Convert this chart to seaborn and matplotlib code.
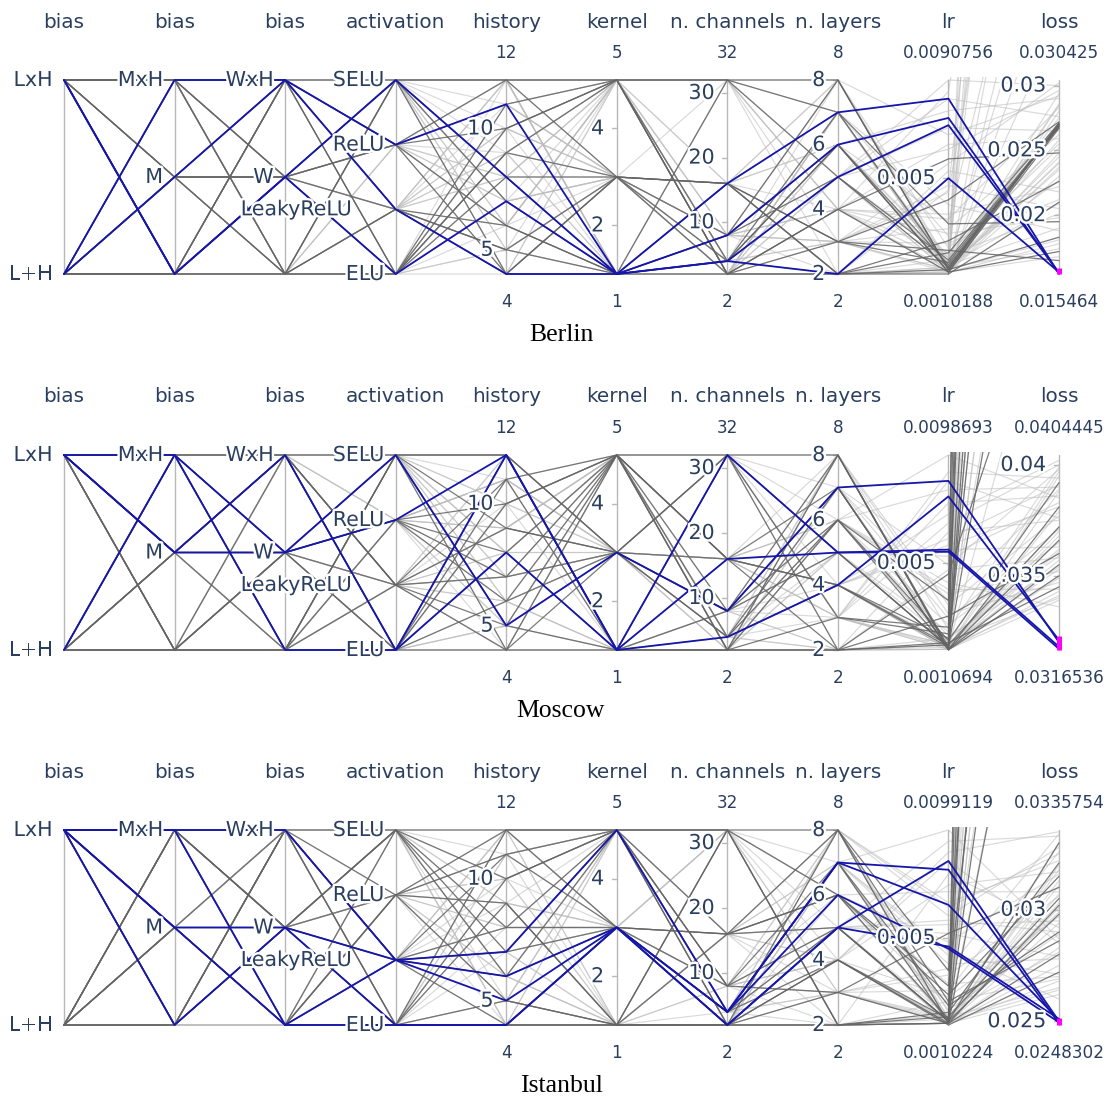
import numpy as np
import pandas as pd
import matplotlib
matplotlib.use("Agg")
import matplotlib.pyplot as plt
import matplotlib.patheffects as pe
import seaborn as sns

# ------------------------------------------------------------------ dimensions
dim_names = ["bias", "bias", "bias", "activation", "history", "kernel",
             "n. channels", "n. layers", "lr", "loss"]
bias1_levels = ["L+H", "LxH"]
bias2_levels = ["", "M", "MxH"]
bias3_levels = ["", "W", "WxH"]
act_levels = ["ELU", "LeakyReLU", "ReLU", "SELU"]

history_range = [4, 12]
history_ticks = [5, 10]
kernel_range = [1, 5]
kernel_ticks = [2, 4]
channels_range = [2, 32]
channels_ticks = [10, 20, 30]
layers_range = [2, 8]
layers_ticks = [2, 4, 6, 8]
lr_ticks = [0.005]

cities = ["Berlin", "Moscow", "Istanbul"]

# ------------------------------------------------------------------ Berlin
berlin_n_best, berlin_n_mid = 4, 18
berlin_lr_range = [0.0010188, 0.0090756]
berlin_loss_range = [0.015464, 0.030425]
berlin_loss_ticks = [0.02, 0.025, 0.03]
berlin_loss_selected = [0.015464, 0.0159]
berlin_bias1 = [1, 0, 0, 1] + [1, 0, 1, 0, 1, 1, 0, 0, 1, 0, 1, 0, 0, 1, 1, 0, 1, 0] + \
    [0, 1, 1, 0, 1, 0, 0, 1, 0, 1, 1, 0, 1, 0, 0, 1, 0, 1, 1, 0, 0, 1, 0, 1, 0, 1, 1, 0, 1, 0, 0, 1, 0, 1, 0, 1] + \
    [1, 0, 1, 0, 0, 1, 1, 0, 1, 0, 0, 1, 0, 1, 1, 0, 1, 0, 0, 1]
berlin_bias2 = [0, 2, 1, 0] + [2, 1, 1, 0, 0, 2, 2, 0, 1, 1, 2, 0, 1, 2, 0, 2, 1, 0] + \
    [1, 2, 0, 1, 2, 0, 1, 1, 2, 0, 2, 1, 0, 2, 1, 1, 0, 2, 1, 0, 2, 0, 1, 1, 2, 0, 1, 2, 0, 1, 2, 0, 1, 2, 1, 0] + \
    [2, 1, 0, 2, 1, 0, 2, 1, 0, 1, 2, 0, 1, 2, 0, 1, 0, 2, 1, 2]
berlin_bias3 = [1, 2, 2, 1] + [2, 1, 0, 2, 1, 0, 1, 0, 2, 1, 2, 0, 1, 0, 2, 1, 0, 2] + \
    [0, 1, 2, 1, 0, 2, 1, 0, 1, 2, 0, 2, 1, 0, 1, 2, 0, 1, 2, 0, 1, 1, 2, 0, 0, 2, 1, 0, 2, 1, 0, 2, 1, 0, 2, 1] + \
    [1, 2, 0, 0, 2, 1, 0, 1, 2, 2, 1, 0, 2, 1, 0, 0, 2, 1, 1, 0]
berlin_act = [3, 2, 1, 0] + [3, 0, 1, 2, 3, 0, 2, 1, 0, 3, 1, 0, 2, 3, 0, 1, 3, 2] + \
    [0, 2, 3, 1, 0, 3, 2, 1, 0, 2, 3, 1, 0, 1, 2, 3, 0, 2, 1, 3, 0, 1, 2, 3, 1, 0, 3, 2, 0, 1, 3, 2, 1, 0, 2, 3] + \
    [1, 3, 2, 0, 1, 2, 3, 0, 1, 3, 2, 0, 3, 1, 2, 0, 1, 3, 2, 1]
berlin_history = [8, 11, 4, 7] + [12, 9, 6, 10, 4, 8, 12, 5, 11, 7, 4, 9, 6, 12, 10, 5, 8, 4] + \
    [10, 6, 12, 5, 8, 4, 11, 9, 7, 12, 6, 10, 5, 8, 4, 9, 11, 7, 12, 6, 10, 5, 8, 4, 9, 12, 7, 11, 6, 10, 5, 8, 4, 9, 12, 7] + \
    [11, 7, 9, 5, 12, 6, 10, 4, 8, 11, 7, 9, 5, 12, 6, 10, 4, 8, 11, 6]
berlin_kernel = [1, 1, 1, 1] + [5, 3, 1, 5, 3, 1, 5, 3, 5, 1, 3, 5, 1, 3, 5, 1, 3, 1] + \
    [3, 5, 1, 3, 5, 1, 3, 5, 3, 1, 5, 3, 1, 5, 3, 1, 5, 3, 1, 3, 5, 1, 3, 5, 3, 1, 5, 3, 1, 5, 3, 1, 3, 5, 1, 3] + \
    [5, 3, 1, 5, 3, 5, 1, 3, 5, 3, 1, 5, 3, 1, 5, 3, 5, 1, 3, 5]
berlin_channels = [16, 8, 4, 4] + [32, 16, 4, 2, 8, 32, 2, 16, 4, 8, 2, 32, 16, 4, 2, 8, 16, 2] + \
    [8, 2, 16, 4, 32, 2, 8, 4, 16, 2, 32, 8, 4, 2, 16, 8, 32, 4, 2, 16, 8, 4, 2, 32, 16, 8, 4, 2, 16, 32, 8, 2, 4, 16, 8, 2] + \
    [4, 16, 2, 8, 32, 4, 16, 2, 8, 4, 32, 16, 2, 8, 4, 16, 2, 32, 8, 4]
berlin_layers = [7, 6, 5, 2] + [8, 3, 6, 2, 5, 7, 4, 2, 6, 8, 3, 5, 2, 7, 4, 6, 3, 2] + \
    [4, 7, 2, 5, 8, 3, 6, 2, 4, 7, 5, 3, 8, 2, 6, 4, 7, 3, 5, 2, 8, 6, 4, 3, 7, 5, 2, 6, 8, 4, 3, 7, 5, 2, 6, 4] + \
    [6, 3, 7, 4, 2, 5, 8, 6, 3, 7, 4, 2, 5, 8, 3, 6, 7, 4, 2, 5]
berlin_lr = [0.0083, 0.0075, 0.0072, 0.0050] + \
    [0.0012, 0.0015, 0.0011, 0.0019, 0.0013, 0.0031, 0.0011, 0.0024, 0.0014, 0.0012,
     0.0041, 0.0016, 0.0010188, 0.0013, 0.0058, 0.0011, 0.0020, 0.0012] + \
    [0.0011, 0.0026, 0.0013, 0.0090756, 0.0012, 0.0047, 0.0017, 0.0011, 0.0035, 0.0014,
     0.0062, 0.0012, 0.0021, 0.0011, 0.0078, 0.0015, 0.0013, 0.0029, 0.0011, 0.0053,
     0.0012, 0.0018, 0.0086, 0.0011, 0.0039, 0.0013, 0.0016, 0.0011, 0.0068, 0.0012,
     0.0023, 0.0014, 0.0011, 0.0045, 0.0012, 0.0033] + \
    [0.0013, 0.0044, 0.0011, 0.0027, 0.0012, 0.0071, 0.0015, 0.0011, 0.0056, 0.0012,
     0.0019, 0.0011, 0.0083, 0.0014, 0.0012, 0.0032, 0.0011, 0.0064, 0.0013, 0.0017]
berlin_loss = [0.01548, 0.01552, 0.01556, 0.01560] + \
    [0.0270, 0.0268, 0.0172, 0.0271, 0.0269, 0.0195, 0.0270, 0.0226, 0.0268, 0.0183,
     0.0272, 0.0269, 0.0210, 0.0270, 0.0248, 0.0267, 0.0165, 0.0271] + \
    [0.0285, 0.09, 0.0240, 0.0300, 0.15, 0.0205, 0.0275, 0.06, 0.0222, 0.0190,
     0.0296, 0.12, 0.0255, 0.0178, 0.0290, 0.045, 0.0235, 0.0262, 0.20, 0.0218,
     0.0280, 0.0201, 0.08, 0.0248, 0.0188, 0.035, 0.0272, 0.0230, 0.0292, 0.05,
     0.0212, 0.0258, 0.0168, 0.1, 0.0241, 0.0283] + \
    [0.0245, 0.07, 0.0286, 0.0198, 0.11, 0.0265, 0.0227, 0.04, 0.0302, 0.0181,
     0.0252, 0.18, 0.0276, 0.0209, 0.0294, 0.055, 0.0237, 0.0259, 0.0174, 0.09]

# ------------------------------------------------------------------ Moscow
moscow_n_best, moscow_n_mid = 4, 20
moscow_lr_range = [0.0010694, 0.0098693]
moscow_loss_range = [0.0316536, 0.0404445]
moscow_loss_ticks = [0.035, 0.04]
moscow_loss_selected = [0.0316536, 0.03228]
moscow_bias1 = [1, 0, 1, 1] + [0, 1, 1, 0, 1, 0, 0, 1, 0, 1, 1, 0, 1, 0, 1, 0, 0, 1, 0, 1] + \
    [1, 0, 0, 1, 1, 0, 1, 0, 0, 1, 0, 1, 1, 0, 0, 1, 0, 1, 1, 0, 1, 0, 0, 1, 0, 1, 0, 1, 1, 0, 0, 1, 1, 0, 1, 0] + \
    [0, 1, 0, 1, 1, 0, 0, 1, 0, 1, 1, 0, 1, 0, 0, 1, 1, 0, 0, 1]
moscow_bias2 = [1, 2, 1, 2] + [2, 0, 1, 1, 2, 0, 2, 0, 1, 2, 0, 1, 1, 0, 2, 2, 0, 1, 1, 0] + \
    [0, 1, 2, 0, 1, 2, 1, 0, 2, 0, 1, 2, 0, 1, 2, 1, 0, 2, 0, 1, 2, 0, 1, 0, 2, 1, 2, 0, 1, 2, 0, 1, 2, 0, 1, 2] + \
    [1, 2, 0, 1, 0, 2, 1, 2, 0, 1, 2, 0, 1, 2, 0, 1, 0, 2, 1, 0]
moscow_bias3 = [1, 1, 2, 0] + [0, 2, 1, 2, 0, 1, 2, 0, 2, 1, 0, 1, 2, 0, 1, 2, 1, 0, 2, 1] + \
    [1, 0, 2, 1, 2, 0, 1, 2, 0, 1, 2, 0, 2, 1, 0, 1, 2, 0, 1, 2, 0, 2, 1, 0, 1, 2, 0, 1, 0, 2, 1, 0, 2, 1, 0, 2] + \
    [2, 0, 1, 0, 2, 1, 2, 0, 1, 2, 1, 0, 0, 2, 1, 2, 0, 1, 2, 0]
moscow_act = [2, 3, 0, 0] + [0, 3, 2, 1, 3, 0, 1, 2, 0, 3, 1, 2, 0, 3, 1, 0, 2, 3, 1, 0] + \
    [3, 1, 0, 2, 3, 1, 0, 2, 1, 3, 0, 2, 1, 3, 0, 1, 2, 3, 0, 1, 2, 3, 1, 0, 2, 3, 1, 0, 3, 2, 1, 0, 3, 1, 2, 0] + \
    [1, 0, 2, 3, 1, 3, 0, 2, 1, 0, 3, 2, 1, 0, 2, 3, 1, 0, 3, 2]
moscow_history = [12, 5, 12, 8] + [10, 12, 8, 5, 9, 4, 11, 7, 6, 12, 4, 10, 8, 5, 9, 11, 6, 4, 7, 12] + \
    [6, 10, 4, 11, 8, 12, 5, 9, 7, 10, 6, 11, 4, 8, 12, 9, 5, 7, 10, 6, 11, 8, 4, 12, 9, 5, 7, 10, 6, 11, 8, 4, 12, 9, 7, 5] + \
    [9, 5, 11, 7, 12, 4, 10, 6, 8, 11, 5, 9, 7, 12, 4, 10, 6, 8, 11, 5]
moscow_kernel = [1, 3, 1, 1] + [5, 3, 1, 5, 3, 5, 1, 3, 5, 1, 3, 5, 5, 1, 3, 5, 3, 1, 5, 3] + \
    [3, 5, 1, 3, 5, 3, 1, 5, 3, 5, 1, 3, 5, 3, 1, 5, 3, 5, 3, 1, 5, 3, 5, 1, 3, 5, 3, 1, 5, 3, 5, 1, 3, 5, 3, 1] + \
    [5, 3, 1, 5, 3, 1, 5, 3, 5, 1, 3, 5, 3, 1, 5, 3, 1, 5, 3, 5]
moscow_channels = [32, 8, 16, 4] + [2, 32, 8, 16, 4, 2, 32, 16, 8, 2, 4, 32, 16, 2, 8, 4, 32, 2, 16, 8] + \
    [16, 4, 8, 32, 2, 16, 8, 4, 32, 2, 16, 8, 4, 2, 32, 16, 8, 2, 4, 16, 32, 8, 2, 4, 16, 2, 8, 32, 4, 16, 2, 8, 4, 32, 16, 2] + \
    [8, 32, 4, 16, 2, 8, 4, 32, 16, 2, 8, 4, 16, 32, 2, 8, 16, 4, 2, 32]
moscow_layers = [5, 7, 5, 4] + [6, 2, 8, 4, 7, 3, 5, 2, 6, 8, 4, 3, 7, 2, 5, 6, 8, 2, 4, 7] + \
    [3, 6, 8, 2, 5, 4, 7, 3, 6, 2, 8, 5, 4, 7, 3, 6, 2, 5, 8, 4, 3, 7, 6, 2, 5, 8, 4, 3, 7, 6, 2, 5, 4, 8, 3, 6] + \
    [7, 4, 2, 6, 8, 3, 5, 7, 4, 2, 6, 8, 3, 5, 7, 2, 4, 6, 8, 3]
moscow_lr = [0.0056, 0.0087, 0.0055, 0.0080] + \
    [0.0011, 0.0013, 0.0012, 0.0016, 0.0011, 0.0021, 0.0012, 0.0014, 0.0033, 0.0011,
     0.0013, 0.0018, 0.0011, 0.0045, 0.0012, 0.0015, 0.0011, 0.0026, 0.0012, 0.0010694] + \
    [0.0012, 0.0036, 0.0011, 0.0064, 0.0015, 0.0011, 0.0049, 0.0013, 0.0098693, 0.0011,
     0.0027, 0.0012, 0.0072, 0.0014, 0.0011, 0.0041, 0.0012, 0.0019, 0.0011, 0.0058,
     0.0013, 0.0011, 0.0083, 0.0016, 0.0012, 0.0031, 0.0011, 0.0068, 0.0013, 0.0022,
     0.0011, 0.0053, 0.0014, 0.0012, 0.0091, 0.0017] + \
    [0.0011, 0.0061, 0.0013, 0.0038, 0.0011, 0.0077, 0.0012, 0.0025, 0.0011, 0.0047,
     0.0014, 0.0011, 0.0087, 0.0012, 0.0033, 0.0011, 0.0056, 0.0013, 0.0020, 0.0011]
moscow_loss = [0.0318, 0.0320, 0.0317, 0.0321] + \
    [0.12, 0.0372, 0.09, 0.20, 0.0355, 0.15, 0.06, 0.0345, 0.30, 0.0381,
     0.08, 0.25, 0.0366, 0.05, 0.18, 0.0392, 0.10, 0.0360, 0.40, 0.0350] + \
    [0.0388, 0.0352, 0.07, 0.0375, 0.0340, 0.11, 0.0398, 0.0362, 0.0385, 0.09,
     0.0347, 0.0370, 0.0402, 0.16, 0.0357, 0.0336, 0.0395, 0.06, 0.0368, 0.0381,
     0.13, 0.0343, 0.0390, 0.0359, 0.22, 0.0377, 0.0349, 0.0400, 0.08, 0.0365,
     0.0339, 0.0383, 0.14, 0.0372, 0.0394, 0.0354] + \
    [0.0361, 0.0391, 0.10, 0.0344, 0.0379, 0.0386, 0.05, 0.0371, 0.19, 0.0358,
     0.0397, 0.07, 0.0376, 0.0341, 0.0389, 0.12, 0.0363, 0.0353, 0.0399, 0.09]

# ------------------------------------------------------------------ Istanbul
istanbul_n_best, istanbul_n_mid = 5, 20
istanbul_lr_range = [0.0010224, 0.0099119]
istanbul_loss_range = [0.0248302, 0.0335754]
istanbul_loss_ticks = [0.025, 0.03]
istanbul_loss_selected = [0.0248302, 0.02515]
istanbul_bias1 = [1, 1, 1, 1, 1] + [0, 1, 0, 1, 0, 1, 1, 0, 0, 1, 0, 1, 0, 0, 1, 0, 1, 0, 1, 0] + \
    [0, 1, 1, 0, 1, 0, 0, 1, 1, 0, 1, 0, 0, 1, 0, 1, 1, 0, 0, 1, 0, 1, 0, 0, 1, 1, 0, 1, 0, 1, 0, 0, 1, 0, 1, 1] + \
    [1, 0, 1, 0, 0, 1, 0, 1, 1, 0, 0, 1, 1, 0, 1, 0, 0, 1, 0, 1]
istanbul_bias2 = [2, 1, 0, 2, 1] + [2, 0, 1, 2, 0, 1, 0, 2, 1, 0, 2, 1, 0, 2, 2, 1, 0, 1, 2, 0] + \
    [1, 0, 2, 1, 2, 0, 1, 2, 0, 1, 0, 2, 1, 0, 2, 1, 2, 0, 1, 0, 2, 1, 0, 2, 1, 0, 2, 0, 1, 2, 1, 0, 2, 1, 0, 2] + \
    [0, 2, 1, 0, 2, 1, 2, 0, 1, 2, 0, 1, 2, 0, 1, 0, 2, 1, 0, 2]
istanbul_bias3 = [2, 1, 1, 0, 0] + [1, 2, 0, 2, 1, 0, 1, 2, 0, 2, 1, 0, 2, 1, 0, 2, 1, 0, 1, 2] + \
    [0, 1, 2, 0, 1, 2, 1, 0, 2, 1, 2, 0, 1, 2, 0, 1, 0, 2, 1, 0, 2, 1, 0, 1, 2, 0, 1, 2, 0, 1, 2, 0, 1, 2, 0, 1] + \
    [2, 0, 1, 1, 0, 2, 0, 1, 2, 0, 1, 2, 0, 1, 2, 1, 0, 2, 0, 1]
istanbul_act = [1, 1, 0, 1, 0] + [3, 0, 2, 1, 0, 3, 1, 0, 2, 3, 0, 1, 2, 3, 0, 1, 3, 0, 2, 1] + \
    [2, 1, 3, 0, 2, 1, 3, 2, 0, 1, 3, 2, 1, 0, 3, 2, 1, 3, 0, 2, 1, 3, 2, 0, 1, 3, 2, 1, 0, 3, 1, 2, 3, 0, 1, 2] + \
    [0, 3, 1, 2, 1, 0, 2, 3, 1, 0, 2, 3, 0, 1, 2, 3, 0, 1, 2, 3]
istanbul_history = [7, 6, 4, 5, 4] + [12, 9, 11, 6, 4, 10, 8, 5, 12, 7, 4, 11, 9, 6, 10, 4, 8, 12, 5, 7] + \
    [9, 5, 12, 7, 10, 4, 11, 6, 8, 12, 5, 9, 7, 11, 4, 10, 6, 8, 12, 5, 9, 7, 11, 4, 10, 6, 8, 12, 5, 9, 7, 11, 4, 10, 6, 8] + \
    [10, 6, 12, 5, 8, 11, 4, 9, 7, 12, 6, 10, 5, 8, 11, 4, 9, 7, 12, 6]
istanbul_kernel = [5, 3, 3, 3, 3] + [5, 1, 3, 5, 1, 5, 3, 1, 5, 3, 1, 5, 1, 3, 5, 1, 5, 3, 1, 5] + \
    [3, 5, 1, 3, 5, 3, 5, 1, 3, 5, 3, 1, 5, 3, 5, 1, 3, 5, 3, 1, 5, 3, 5, 1, 3, 5, 3, 1, 5, 3, 1, 5, 3, 5, 1, 3] + \
    [1, 5, 3, 5, 3, 1, 5, 3, 1, 5, 3, 5, 1, 3, 5, 3, 1, 5, 3, 1]
istanbul_channels = [4, 4, 2, 4, 2] + [2, 32, 16, 8, 2, 32, 4, 2, 16, 8, 32, 4, 2, 16, 8, 2, 32, 4, 16, 2] + \
    [8, 16, 2, 32, 4, 16, 8, 2, 32, 4, 16, 2, 8, 32, 4, 16, 2, 8, 4, 32, 16, 2, 8, 4, 16, 32, 2, 8, 4, 16, 2, 32, 8, 4, 16, 2] + \
    [16, 4, 8, 2, 32, 16, 4, 8, 2, 32, 4, 16, 8, 2, 32, 4, 16, 2, 8, 32]
istanbul_layers = [7, 6, 5, 7, 5] + [8, 2, 5, 7, 3, 6, 4, 2, 8, 5, 2, 7, 4, 6, 3, 2, 8, 5, 6, 4] + \
    [4, 7, 2, 6, 3, 8, 5, 2, 7, 4, 6, 3, 8, 2, 5, 7, 4, 6, 3, 2, 8, 5, 4, 7, 6, 3, 2, 8, 5, 4, 7, 6, 3, 2, 5, 8] + \
    [3, 8, 5, 7, 2, 4, 6, 3, 8, 5, 7, 2, 4, 6, 3, 8, 5, 7, 2, 4]
istanbul_lr = [0.0081, 0.0045, 0.0085, 0.0065, 0.0046] + \
    [0.0011, 0.0014, 0.0012, 0.0019, 0.0011, 0.0024, 0.0013, 0.0011, 0.0035, 0.0012,
     0.0016, 0.0011, 0.0010224, 0.0013, 0.0052, 0.0011, 0.0021, 0.0012, 0.0028, 0.0011] + \
    [0.0012, 0.0038, 0.0011, 0.0071, 0.0014, 0.0011, 0.0056, 0.0013, 0.0099119, 0.0011,
     0.0029, 0.0012, 0.0064, 0.0015, 0.0011, 0.0044, 0.0012, 0.0020, 0.0011, 0.0079,
     0.0013, 0.0011, 0.0089, 0.0017, 0.0012, 0.0033, 0.0011, 0.0060, 0.0014, 0.0023,
     0.0011, 0.0048, 0.0013, 0.0011, 0.0094, 0.0016] + \
    [0.0011, 0.0066, 0.0012, 0.0042, 0.0011, 0.0085, 0.0013, 0.0026, 0.0011, 0.0052,
     0.0014, 0.0011, 0.0074, 0.0012, 0.0036, 0.0011, 0.0058, 0.0013, 0.0021, 0.0011]
istanbul_loss = [0.02490, 0.02495, 0.02500, 0.02505, 0.02510] + \
    [0.08, 0.0305, 0.15, 0.0290, 0.05, 0.0315, 0.25, 0.0280, 0.10, 0.0298,
     0.0321, 0.12, 0.0272, 0.06, 0.0310, 0.20, 0.0286, 0.0330, 0.07, 0.0302] + \
    [0.0320, 0.0278, 0.07, 0.0308, 0.0265, 0.11, 0.0295, 0.0330, 0.0287, 0.09,
     0.0270, 0.0313, 0.0325, 0.16, 0.0283, 0.0260, 0.0318, 0.06, 0.0301, 0.0292,
     0.13, 0.0275, 0.0335, 0.0289, 0.22, 0.0306, 0.0268, 0.0328, 0.08, 0.0297,
     0.0262, 0.0316, 0.14, 0.0303, 0.0333, 0.0281] + \
    [0.0294, 0.0322, 0.09, 0.0271, 0.0311, 0.0285, 0.05, 0.0326, 0.17, 0.0279,
     0.0299, 0.07, 0.0317, 0.0264, 0.0334, 0.12, 0.0290, 0.0307, 0.0269, 0.10]

# ------------------------------------------------------------------ tables
city_data = {
    "Berlin": dict(cols=[berlin_bias1, berlin_bias2, berlin_bias3, berlin_act, berlin_history,
                         berlin_kernel, berlin_channels, berlin_layers, berlin_lr, berlin_loss],
                   n_best=berlin_n_best, n_mid=berlin_n_mid, lr_range=berlin_lr_range,
                   loss_range=berlin_loss_range, loss_ticks=berlin_loss_ticks,
                   sel=berlin_loss_selected),
    "Moscow": dict(cols=[moscow_bias1, moscow_bias2, moscow_bias3, moscow_act, moscow_history,
                         moscow_kernel, moscow_channels, moscow_layers, moscow_lr, moscow_loss],
                   n_best=moscow_n_best, n_mid=moscow_n_mid, lr_range=moscow_lr_range,
                   loss_range=moscow_loss_range, loss_ticks=moscow_loss_ticks,
                   sel=moscow_loss_selected),
    "Istanbul": dict(cols=[istanbul_bias1, istanbul_bias2, istanbul_bias3, istanbul_act, istanbul_history,
                           istanbul_kernel, istanbul_channels, istanbul_layers, istanbul_lr, istanbul_loss],
                     n_best=istanbul_n_best, n_mid=istanbul_n_mid, lr_range=istanbul_lr_range,
                     loss_range=istanbul_loss_range, loss_ticks=istanbul_loss_ticks,
                     sel=istanbul_loss_selected),
}
cat_levels = [bias1_levels, bias2_levels, bias3_levels, act_levels]

# ------------------------------------------------------------------ drawing
sns.set_theme(style="white")
plt.rcParams["font.family"] = ["DejaVu Sans"]

FIG_W, FIG_H = 1110, 1099
fig = plt.figure(figsize=(FIG_W / 100, FIG_H / 100), dpi=100)
AX_X0, AX_X9 = 64, 1059
DX = (AX_X9 - AX_X0) / 9.0
panel_top = [80, 455, 830]
panel_bot = [274, 650, 1025]
XPAD, YPAD = 0.35, 0.016
TXT = "#2a3f5f"
halo = [pe.withStroke(linewidth=3.5, foreground="white")]
TICK_FS = 14.8
HEAD_FS = 14.4
RANGE_FS = 12.2

style = {"rest": dict(color="#bcbcbc", lw=0.85, alpha=0.55),
         "mid": dict(color="#646464", lw=0.9, alpha=0.85),
         "best": dict(color="#1616aa", lw=1.3, alpha=1.0)}


def fmt(v):
    return "{:g}".format(v)


for k, city in enumerate(cities):
    d = city_data[city]
    T, B = panel_top[k], panel_bot[k]
    H = B - T
    left_px = AX_X0 - XPAD * DX
    right_px = AX_X9 + XPAD * DX
    top_px = T - YPAD * H
    bot_px = B + YPAD * H
    ax = fig.add_axes([left_px / FIG_W, 1 - bot_px / FIG_H,
                       (right_px - left_px) / FIG_W, (bot_px - top_px) / FIG_H])

    def py(p):  # pixel row -> data y
        return (B - p) / H

    num_ranges = [history_range, kernel_range, channels_range, layers_range,
                  d["lr_range"], d["loss_range"]]
    num_ticks = [history_ticks, kernel_ticks, channels_ticks, layers_ticks,
                 lr_ticks, d["loss_ticks"]]

    n = len(d["cols"][0])
    groups = ["best"] * d["n_best"] + ["mid"] * d["n_mid"] + ["rest"] * (n - d["n_best"] - d["n_mid"])
    rows = []
    for j, col in enumerate(d["cols"]):
        for r, v in enumerate(col[:n]):
            if j < 4:
                yn = v / (len(cat_levels[j]) - 1)
            else:
                lo, hi = num_ranges[j - 4]
                yn = (v - lo) / (hi - lo)
            rows.append((r, j, yn, groups[r]))
    df = pd.DataFrame(rows, columns=["run", "pos", "yn", "group"])

    # axis bars
    for j in range(10):
        ax.plot([j, j], [0, 1], color="#b8b8b8", lw=1.0, zorder=1)

    for g in ["rest", "mid", "best"]:
        sub = df[df["group"] == g]
        sns.lineplot(data=sub, x="pos", y="yn", units="run", estimator=None,
                     ax=ax, legend=False, **style[g])

    # selected range on loss axis
    lo, hi = d["loss_range"]
    s0, s1 = d["sel"]
    ax.plot([9, 9], [(s0 - lo) / (hi - lo), (s1 - lo) / (hi - lo)], color="#ff00ff",
            lw=3.6, solid_capstyle="butt", zorder=7)

    # categorical tick labels
    for j in range(4):
        lev = cat_levels[j]
        for i, name in enumerate(lev):
            if name:
                off = 0.40 if len(name) > 6 else 0.105
                ax.text(j - off, i / (len(lev) - 1), name, ha="right", va="center",
                        fontsize=TICK_FS, color=TXT, path_effects=halo, zorder=8,
                        clip_on=False)
    # numeric ticks and range labels
    for j in range(4, 10):
        lo, hi = num_ranges[j - 4]
        for t in num_ticks[j - 4]:
            yy = (t - lo) / (hi - lo)
            ax.plot([j - 0.045, j], [yy, yy], color="#b8b8b8", lw=1.0, zorder=1)
            ax.text(j - 0.115, yy, fmt(t), ha="right", va="center", fontsize=TICK_FS,
                    color=TXT, path_effects=halo, zorder=8, clip_on=False)
        ax.text(j, py(T - 27), str(hi), ha="center", va="center", fontsize=RANGE_FS,
                color=TXT, clip_on=False)
        ax.text(j, py(B + 28), str(lo), ha="center", va="center", fontsize=RANGE_FS,
                color=TXT, clip_on=False)
    # headers
    for j, name in enumerate(dim_names):
        ax.text(j, py(T - 58), name, ha="center", va="center", fontsize=HEAD_FS,
                color=TXT, clip_on=False)
    # city title
    ax.text((561 - AX_X0) / DX, py(B + 61), city, ha="center", va="center",
            fontsize=18.5, family="Liberation Serif", color="black", clip_on=False)

    ax.set_xlim(-XPAD, 9 + XPAD)
    ax.set_ylim(-YPAD, 1 + YPAD)
    ax.set_axis_off()

fig.savefig("out.png", dpi=100)
